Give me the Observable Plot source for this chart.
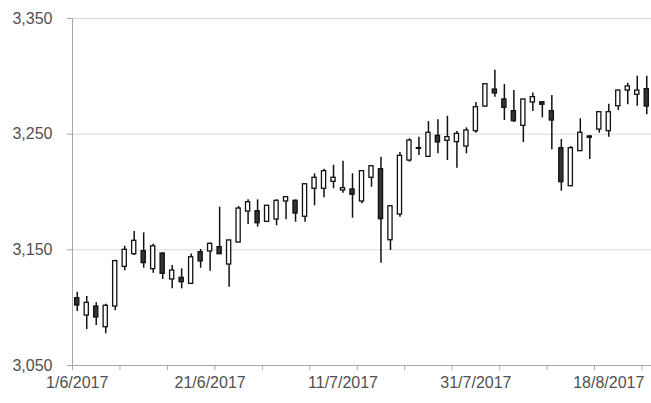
<!DOCTYPE html>
<html>
<head>
<meta charset="utf-8">
<script src="https://cdn.jsdelivr.net/npm/d3@7"></script>
<script src="https://cdn.jsdelivr.net/npm/@observablehq/plot@0.6"></script>
<style>
  html, body { margin: 0; padding: 0; background: #fff; }
  #chart svg { display: block; }
</style>
</head>
<body>
<div id="chart"></div>
<script>
const dates = [
  "1/6/2017","2/6/2017","5/6/2017","6/6/2017","7/6/2017","8/6/2017","9/6/2017",
  "12/6/2017","13/6/2017","14/6/2017","15/6/2017","16/6/2017",
  "19/6/2017","20/6/2017","21/6/2017","22/6/2017","23/6/2017",
  "26/6/2017","27/6/2017","28/6/2017","29/6/2017","30/6/2017",
  "3/7/2017","4/7/2017","5/7/2017","6/7/2017","7/7/2017",
  "10/7/2017","11/7/2017","12/7/2017","13/7/2017","14/7/2017",
  "17/7/2017","18/7/2017","19/7/2017","20/7/2017","21/7/2017",
  "24/7/2017","25/7/2017","26/7/2017","27/7/2017","28/7/2017",
  "31/7/2017","1/8/2017","2/8/2017","3/8/2017","4/8/2017",
  "7/8/2017","8/8/2017","9/8/2017","10/8/2017","11/8/2017",
  "14/8/2017","15/8/2017","16/8/2017","17/8/2017","18/8/2017",
  "21/8/2017","22/8/2017","23/8/2017","24/8/2017"
];
const openV = [
  3108.2,3093.2,3101.0,3083.1,3101.0,3135.3,3146.2,
  3148.8,3133.3,3146.8,3124.4,3125.8,
  3120.6,3148.0,3148.6,3152.3,3137.3,
  3156.3,3183.1,3183.4,3174.2,3176.2,
  3191.8,3192.4,3178.6,3202.8,3202.8,
  3208.8,3201.3,3202.2,3191.8,3212.3,
  3219.7,3158.3,3180.5,3227.2,3238.0,
  3230.4,3248.6,3244.3,3243.1,3239.3,
  3252.6,3273.9,3288.6,3280.0,3269.9,
  3257.2,3277.4,3277.6,3269.9,3237.9,
  3205.0,3235.3,3248.0,3254.0,3252.6,
  3274.1,3287.7,3284.0,3288.9
];
const highV = [
  3113.4,3109.7,3104.2,3103.0,3141.0,3153.1,3165.8,
  3164.7,3154.9,3147.5,3136.5,3133.6,
  3146.5,3150.3,3156.0,3186.9,3158.5,
  3187.5,3193.2,3193.2,3188.3,3193.2,
  3196.1,3193.2,3206.8,3215.7,3219.7,
  3223.2,3226.6,3215.7,3218.6,3222.9,
  3230.1,3188.0,3234.1,3246.0,3247.4,
  3260.9,3262.4,3265.5,3252.3,3255.5,
  3277.4,3293.3,3305.3,3292.9,3287.7,
  3280.2,3285.5,3278.0,3283.4,3245.4,
  3239.3,3263.3,3248.8,3269.2,3275.9,
  3288.0,3294.0,3300.1,3300.1
];
const lowV = [
  3096.7,3081.1,3084.6,3077.4,3097.3,3131.9,3145.1,
  3134.1,3129.8,3124.4,3116.3,3116.3,
  3120.3,3134.1,3131.5,3146.0,3117.7,
  3156.0,3171.9,3169.6,3174.0,3170.8,
  3176.0,3173.9,3173.9,3188.1,3195.0,
  3202.8,3199.0,3177.3,3189.8,3204.1,
  3138.4,3149.4,3178.2,3225.8,3231.5,
  3230.0,3233.0,3227.2,3220.6,3233.0,
  3250.9,3273.3,3282.0,3261.8,3260.1,
  3242.8,3269.6,3264.1,3236.5,3200.7,
  3205.0,3235.0,3228.1,3250.9,3247.4,
  3270.4,3275.4,3274.1,3266.7
];
const closeV = [
  3101.9,3104.2,3091.5,3101.6,3140.2,3150.0,3157.8,
  3138.5,3153.1,3129.3,3132.1,3122.0,
  3143.6,3140.0,3155.2,3146.2,3158.1,
  3185.7,3191.2,3173.0,3188.1,3192.4,
  3195.5,3181.4,3206.7,3212.3,3218.0,
  3212.3,3203.3,3197.6,3218.0,3222.3,
  3176.5,3187.7,3231.3,3244.5,3237.3,
  3251.2,3242.8,3247.4,3250.3,3253.2,
  3273.3,3293.2,3285.2,3272.8,3261.2,
  3280.0,3282.0,3275.4,3261.8,3208.5,
  3237.9,3251.2,3246.9,3269.0,3269.0,
  3287.7,3291.3,3287.7,3273.9
];
const yTicks = [3050, 3150, 3250, 3350];
const labelIdx = [0, 14, 28, 42, 56];   // one label every 14 trading days
const tickIdx = d3.range(-0.5, 60, 5);   // tick marks every 5 categories

const data = dates.map((d, i) => ({
  i, date: d, open: openV[i], high: highV[i], low: lowV[i], close: closeV[i]
}));

const chart = Plot.plot({
  width: 651,
  height: 403,
  marginLeft: 72,
  marginRight: 0,
  marginTop: 18,
  marginBottom: 38,
  style: {
    fontFamily: "'Liberation Sans', Arial, sans-serif",
    fontSize: "16px",
    background: "#fff",
    overflow: "visible"
  },
  x: { type: "linear", domain: [-0.5, 60.5], axis: null },
  y: { domain: [3050, 3350], axis: null },
  color: { type: "identity" },
  marks: [
    Plot.gridY(yTicks, { stroke: "#d9d9d9", strokeOpacity: 1 }),
    Plot.ruleY([3050], { stroke: "#a6a6a6" }),
    Plot.ruleX([-0.5], { stroke: "#a6a6a6" }),
    Plot.axisY({
      ticks: yTicks, tickFormat: d3.format(","), tickSize: 5, tickPadding: 15,
      stroke: "#a6a6a6", strokeOpacity: 1, fill: "#505050", label: null
    }),
    Plot.axisX({
      ticks: tickIdx, tickSize: 5, stroke: "#a6a6a6", strokeOpacity: 1,
      fill: "none", label: null
    }),
    Plot.axisX({
      ticks: labelIdx, tickSize: 0, tickPadding: 11,
      tickFormat: i => dates[i], fill: "#505050", label: null
    }),
    Plot.ruleX(data, { x: "i", y1: "low", y2: "high", stroke: "#111", strokeWidth: 1.5 }),
    Plot.rect(data, {
      x1: d => d.i - 0.22, x2: d => d.i + 0.22,
      y1: "open", y2: "close",
      fill: d => d.close >= d.open ? "#ffffff" : "#333333",
      stroke: "#111", strokeWidth: 1.3
    })
  ]
});
document.getElementById("chart").appendChild(chart);
</script>
</body>
</html>
